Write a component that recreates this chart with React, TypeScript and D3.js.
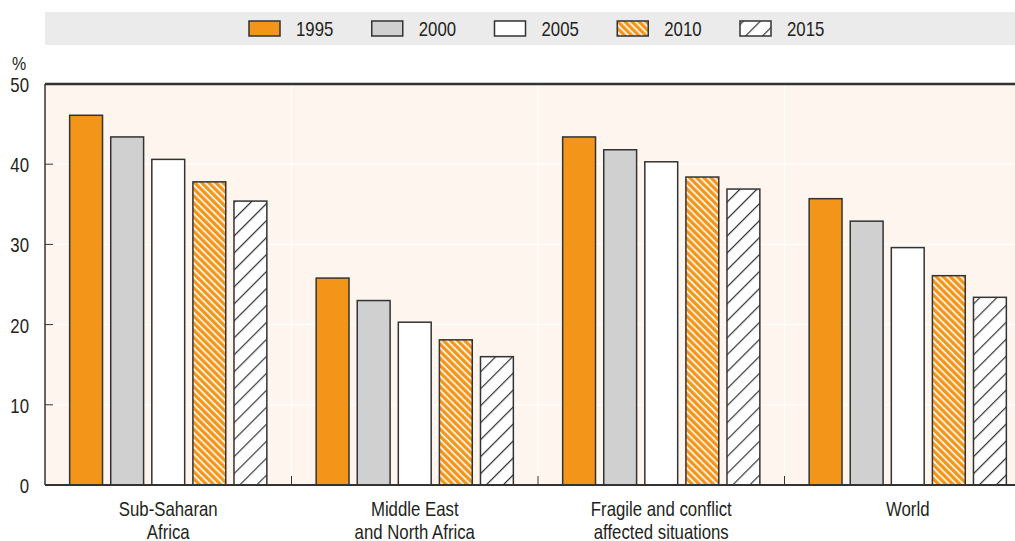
import React from "react";
import * as d3 from "d3";

const categories = [
  ["Sub-Saharan", "Africa"],
  ["Middle East", "and North Africa"],
  ["Fragile and conflict", "affected situations"],
  ["World"],
];
const years = ["1995", "2000", "2005", "2010", "2015"];
const v1995 = [46.1, 25.8, 43.4, 35.7];
const v2000 = [43.4, 23.0, 41.8, 32.9];
const v2005 = [40.6, 20.3, 40.3, 29.6];
const v2010 = [37.8, 18.1, 38.4, 26.1];
const v2015 = [35.4, 16.0, 36.9, 23.4];
const series = [v1995, v2000, v2005, v2010, v2015];
const yTicks = [0, 10, 20, 30, 40, 50];

const W = 1015;
const H = 541;
const FONT = "'Liberation Sans', Arial, sans-serif";
const TEXT = "#231f20";
const STROKE = "#333333";
const ORANGE = "#f39519";
const GREY = "#d0d0d0";
const SQUEEZE = 0.84;

const fills = [ORANGE, GREY, "#ffffff", "url(#hatch2010)", "url(#hatch2015)"];

function NText({
  x,
  y,
  anchor = "start",
  size = 20,
  children,
}: {
  x: number;
  y: number;
  anchor?: "start" | "middle" | "end";
  size?: number;
  children: React.ReactNode;
}) {
  return (
    <text
      transform={`translate(${x},${y}) scale(${SQUEEZE},1)`}
      textAnchor={anchor}
      fontSize={size}
      fill={TEXT}
    >
      {children}
    </text>
  );
}

export default function App() {
  const left = 45;
  const right = 1031;
  const top = 84;
  const bottom = 485;

  const x0 = d3
    .scaleBand<number>()
    .domain(categories.map((_, i) => i))
    .range([left, right])
    .padding(0);
  const x1 = d3
    .scaleBand<number>()
    .domain(years.map((_, i) => i))
    .range([0, x0.bandwidth()])
    .paddingInner(0.2)
    .paddingOuter(0.6);
  const y = d3.scaleLinear().domain([0, 50]).range([bottom, top]);

  const legendX = d3
    .scaleLinear()
    .domain([0, years.length - 1])
    .range([249, 740]);

  return (
    <svg
      width={W}
      height={H}
      style={{ position: "absolute", left: 0, top: 0, background: "#fff" }}
      fontFamily={FONT}
    >
      <defs>
        <pattern
          id="hatch2010"
          patternUnits="userSpaceOnUse"
          width={5}
          height={5}
          patternTransform="rotate(45)"
        >
          <rect width={5} height={5} fill={ORANGE} />
          <rect width={5} height={1.6} fill="#ffffff" />
        </pattern>
        <pattern
          id="hatch2015"
          patternUnits="userSpaceOnUse"
          width={12}
          height={12}
          patternTransform="rotate(-45)"
        >
          <rect width={12} height={12} fill="#ffffff" />
          <rect width={12} height={1.2} fill={STROKE} />
        </pattern>
      </defs>

      {/* legend band */}
      <rect x={45} y={12} width={W - 45} height={33} fill="#ebebeb" />
      {years.map((yr, i) => (
        <g key={yr}>
          <rect
            x={legendX(i)}
            y={21}
            width={31}
            height={15}
            fill={fills[i]}
            stroke={STROKE}
            strokeWidth={1.5}
          />
          <NText x={legendX(i) + 47} y={35.5}>
            {yr}
          </NText>
        </g>
      ))}

      {/* plot background */}
      <rect x={left} y={top} width={right - left} height={bottom - top} fill="#fdf5ee" />
      {yTicks.slice(1, -1).map((t) => (
        <line key={t} x1={left} x2={right} y1={y(t)} y2={y(t)} stroke="#ffffff" strokeWidth={1.2} />
      ))}
      {categories.slice(1).map((_, i) => (
        <line
          key={i}
          x1={x0(i + 1)}
          x2={x0(i + 1)}
          y1={top}
          y2={bottom}
          stroke="#ffffff"
          strokeWidth={1.5}
        />
      ))}

      {/* bars */}
      {categories.map((_, ci) => (
        <g key={ci} transform={`translate(${x0(ci)},0)`}>
          {series.map((s, si) => (
            <rect
              key={si}
              x={x1(si)}
              y={y(s[ci])}
              width={x1.bandwidth()}
              height={y(0) - y(s[ci])}
              fill={fills[si]}
              stroke={STROKE}
              strokeWidth={1.5}
            />
          ))}
        </g>
      ))}

      {/* axes */}
      <line x1={left} x2={right} y1={top} y2={top} stroke={STROKE} strokeWidth={2.5} />
      <line x1={left} x2={left} y1={top} y2={bottom} stroke={STROKE} strokeWidth={1.5} />
      <line x1={left} x2={right} y1={bottom} y2={bottom} stroke={STROKE} strokeWidth={2} />
      {yTicks.slice(1, -1).map((t) => (
        <line key={t} x1={left} x2={left + 8} y1={y(t)} y2={y(t)} stroke={STROKE} strokeWidth={1} />
      ))}
      {categories.slice(1).map((_, i) => (
        <line
          key={i}
          x1={x0(i + 1)}
          x2={x0(i + 1)}
          y1={bottom - 9}
          y2={bottom}
          stroke={STROKE}
          strokeWidth={1}
        />
      ))}

      {/* y tick labels */}
      {yTicks.map((t) => (
        <NText key={t} x={29} y={y(t) + 8} anchor="end">
          {t}
        </NText>
      ))}
      <NText x={12} y={70} size={19}>
        %
      </NText>

      {/* category labels */}
      {categories.map((lines, ci) =>
        lines.map((l, li) => (
          <NText
            key={`${ci}-${li}`}
            x={(x0(ci) as number) + x0.bandwidth() / 2}
            y={516 + li * 22.5}
            anchor="middle"
          >
            {l}
          </NText>
        ))
      )}
    </svg>
  );
}
